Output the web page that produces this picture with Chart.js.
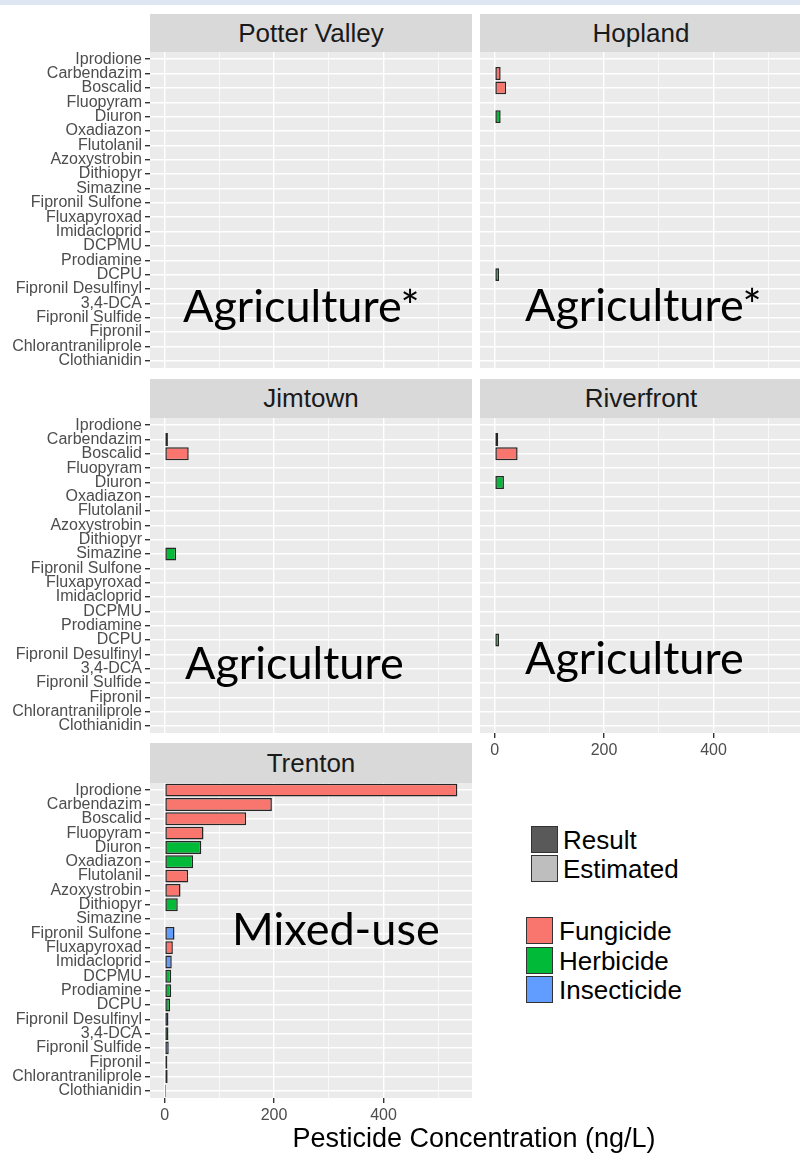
<!DOCTYPE html>
<html>
<head>
<meta charset="utf-8">
<script src="https://cdn.jsdelivr.net/npm/chart.js@4.4.0/dist/chart.umd.min.js"></script>
<style>
  html, body { margin: 0; padding: 0; background: #fff; }
  body { position: relative; width: 800px; height: 1154px; overflow: hidden;
         font-family: "Liberation Sans", Arial, sans-serif; }
  .topband { position: absolute; left: 0; top: 0; width: 800px; height: 5px; background: #dfe6f3; }
  .strip { position: absolute; background: #d9d9d9; color: #1a1a1a; font-size: 26px;
           display: flex; align-items: center; justify-content: center; }
  .panel { position: absolute; }
  .note { position: absolute; font-family: Lato, "Open Sans", sans-serif; font-size: 45px;
          line-height: 1; color: #000; white-space: nowrap; }
  .key { position: absolute; width: 27px; height: 27px; box-sizing: border-box; border: 1.5px solid #333; }
  .keytext { position: absolute; font-size: 26px; line-height: 27px; color: #000; }
  .xtitle { position: absolute; left: 274px; width: 400px; top: 1123px; text-align: center;
            font-size: 27px; line-height: 30px; color: #000; }
</style>
</head>
<body>
<div class="topband"></div>

<div class="strip" style="left:150px; top:14px; width:322px; height:38px;">Potter Valley</div>
<div class="strip" style="left:480px; top:14px; width:322px; height:38px;">Hopland</div>
<div class="strip" style="left:150px; top:379px; width:322px; height:39px;">Jimtown</div>
<div class="strip" style="left:480px; top:379px; width:322px; height:39px;">Riverfront</div>
<div class="strip" style="left:150px; top:743px; width:322px; height:40px;">Trenton</div>

<canvas id="potter" class="panel" width="472" height="316" style="left:0; top:52px;"></canvas>
<canvas id="hopland" class="panel" width="322" height="316" style="left:480px; top:52px;"></canvas>
<canvas id="jimtown" class="panel" width="472" height="315" style="left:0; top:418px;"></canvas>
<canvas id="riverfront" class="panel" width="322" height="343" style="left:480px; top:418px;"></canvas>
<canvas id="trenton" class="panel" width="472" height="343" style="left:0; top:783px;"></canvas>

<div class="note" style="left:183px; top:283px;">Agriculture*</div>
<div class="note" style="left:525px; top:282px;">Agriculture*</div>
<div class="note" style="left:185px; top:640px;">Agriculture</div>
<div class="note" style="left:525px; top:635px;">Agriculture</div>
<div class="note" style="left:232px; top:906px;">Mixed-use</div>

<div class="key" style="left:531px; top:826px; background:#595959;"></div>
<div class="keytext" style="left:563px; top:827px;">Result</div>
<div class="key" style="left:531px; top:855px; background:#bebebe;"></div>
<div class="keytext" style="left:563px; top:856px;">Estimated</div>

<div class="key" style="left:526px; top:917px; background:#f8766d;"></div>
<div class="keytext" style="left:559px; top:918px;">Fungicide</div>
<div class="key" style="left:526px; top:947px; background:#00ba38;"></div>
<div class="keytext" style="left:559px; top:948px;">Herbicide</div>
<div class="key" style="left:526px; top:976px; background:#619cff;"></div>
<div class="keytext" style="left:559px; top:977px;">Insecticide</div>

<div class="xtitle">Pesticide Concentration (ng/L)</div>

<script>
// compounds, top to bottom
const pesticides = ['Iprodione', 'Carbendazim', 'Boscalid', 'Fluopyram', 'Diuron', 'Oxadiazon',
  'Flutolanil', 'Azoxystrobin', 'Dithiopyr', 'Simazine', 'Fipronil Sulfone', 'Fluxapyroxad',
  'Imidacloprid', 'DCPMU', 'Prodiamine', 'DCPU', 'Fipronil Desulfinyl', '3,4-DCA',
  'Fipronil Sulfide', 'Fipronil', 'Chlorantraniliprole', 'Clothianidin'];

const pesticideClass = ['Fungicide', 'Fungicide', 'Fungicide', 'Fungicide', 'Herbicide', 'Herbicide',
  'Fungicide', 'Fungicide', 'Herbicide', 'Herbicide', 'Insecticide', 'Fungicide',
  'Insecticide', 'Herbicide', 'Herbicide', 'Herbicide', 'Insecticide', 'Herbicide',
  'Insecticide', 'Insecticide', 'Insecticide', 'Insecticide'];

// concentrations in ng/L, null = not detected
const potterValley = [null, null, null, null, null, null, null, null, null, null, null,
  null, null, null, null, null, null, null, null, null, null, null];
const hopland = [null, 11, 21, null, 11, null, null, null, null, null, null,
  null, null, null, null, 8, null, null, null, null, null, null];
const jimtown = [null, 6, 44, null, null, null, null, null, null, 21, null,
  null, null, null, null, null, null, null, null, null, null, null];
const riverfront = [null, 6.5, 42, null, 17, null, null, null, null, null, null,
  null, null, null, null, 8, null, null, null, null, null, null];
const trenton = [535, 196, 149, 71, 67, 52, 43, 29, 24, null, 18,
  15, 13, 12, 12, 10, 7, 7, 7.5, 5, 5.5, 2.5];

// results flagged as estimated
const hoplandEstimated = [];
const jimtownEstimated = [];
const riverfrontEstimated = ['Carbendazim'];
const trentonEstimated = ['Chlorantraniliprole'];

const xTickLabels = [0, 200, 400];
const xGridBreaks = [0, 100, 200, 300, 400, 500];

const classColors = { Fungicide: '#f8766d', Herbicide: '#00ba38', Insecticide: '#619cff' };

const allValues = [].concat(hopland, jimtown, riverfront, trenton).filter(v => v != null);
const dataMax = Math.max(...allValues);
const xMin = -dataMax * 0.05;
const xMax = dataMax * 1.05;

Chart.defaults.font.family = '"Liberation Sans", Arial, sans-serif';

function fade(hex, a) {
  const n = parseInt(hex.slice(1), 16);
  return `rgba(${(n >> 16) & 255}, ${(n >> 8) & 255}, ${n & 255}, ${a})`;
}

const panelBg = {
  id: 'panelBg',
  beforeDraw(chart) {
    const { ctx, chartArea: a } = chart;
    ctx.save();
    ctx.fillStyle = '#ebebeb';
    ctx.fillRect(a.left, a.top, a.right - a.left, a.bottom - a.top);
    ctx.restore();
  }
};

// no extra room for half tick labels: panels sit flush against the strips
function noPadding(s) {
  s.paddingTop = 0;
  s.paddingBottom = 0;
  s.paddingLeft = 0;
  s.paddingRight = 0;
}

function makePanel(id, values, estimated, showY, showX) {
  const colors = pesticides.map((p, i) => {
    const c = classColors[pesticideClass[i]];
    return estimated.includes(p) ? fade(c, 0.4) : c;
  });

  new Chart(document.getElementById(id), {
    type: 'bar',
    data: {
      labels: pesticides,
      datasets: [{
        data: values,
        backgroundColor: colors,
        borderColor: '#262626',
        borderWidth: 1.5,
        borderSkipped: false,
        barPercentage: 0.9,
        categoryPercentage: 1
      }]
    },
    options: {
      indexAxis: 'y',
      responsive: false,
      animation: false,
      layout: { padding: 0 },
      plugins: { legend: { display: false }, tooltip: { enabled: false } },
      scales: {
        x: {
          type: 'linear',
          min: xMin,
          max: xMax,
          afterBuildTicks: s => { s.ticks = xGridBreaks.map(v => ({ value: v })); },
          afterFit: s => { s.height = showX ? 28 : 0; noPadding(s); },
          grid: {
            color: '#ffffff',
            lineWidth: c => (c.tick && xTickLabels.includes(c.tick.value)) ? 1.4 : 0.7,
            drawTicks: showX,
            tickLength: 5,
            tickColor: c => (c.tick && xTickLabels.includes(c.tick.value)) ? '#333333' : 'rgba(0,0,0,0)'
          },
          border: { display: false },
          ticks: {
            display: showX,
            autoSkip: false,
            maxRotation: 0,
            padding: 3,
            color: '#4d4d4d',
            font: { size: 16 },
            callback: v => xTickLabels.includes(v) ? String(v) : ''
          }
        },
        y: {
          afterFit: s => { s.width = showY ? 150 : 0; noPadding(s); },
          grid: {
            color: '#ffffff',
            lineWidth: 1.4,
            offset: false,
            drawTicks: showY,
            tickLength: 5,
            tickColor: '#333333'
          },
          border: { display: false },
          ticks: {
            display: showY,
            autoSkip: false,
            padding: 3,
            color: '#4d4d4d',
            font: { size: 16 }
          }
        }
      }
    },
    plugins: [panelBg]
  });
}

makePanel('potter', potterValley, [], true, false);
makePanel('hopland', hopland, hoplandEstimated, false, false);
makePanel('jimtown', jimtown, jimtownEstimated, true, false);
makePanel('riverfront', riverfront, riverfrontEstimated, false, true);
makePanel('trenton', trenton, trentonEstimated, true, true);
</script>
</body>
</html>
